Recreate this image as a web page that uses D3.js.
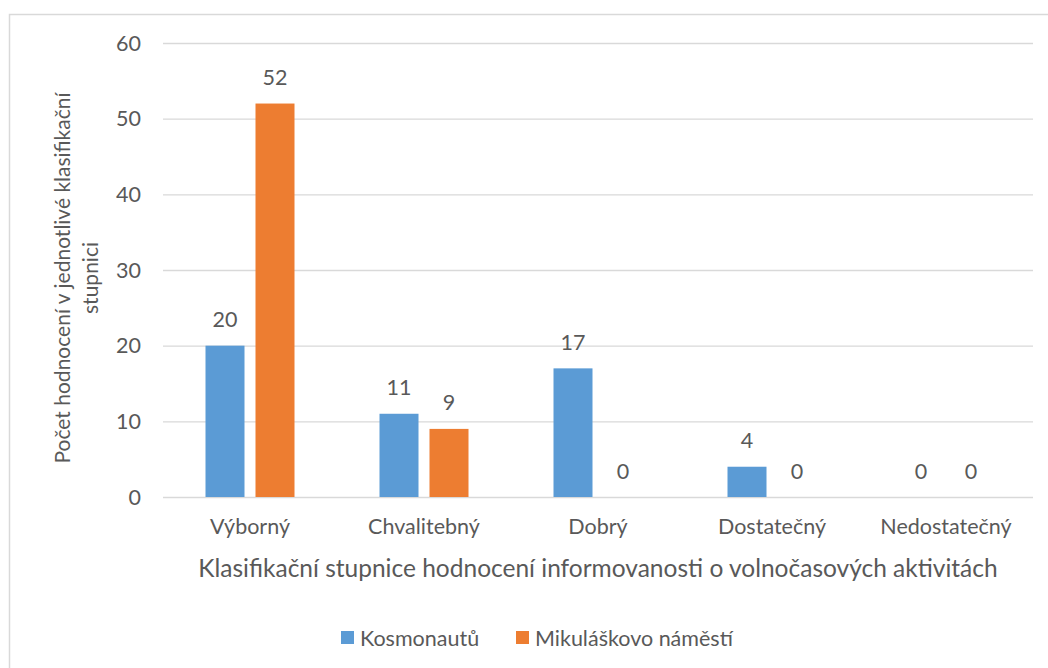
<!DOCTYPE html>
<html>
<head>
<meta charset="utf-8">
<script src="https://cdn.jsdelivr.net/npm/d3@7"></script>
<style>
  body { margin: 0; background: #fff; }
  text { font-family: Lato, "Open Sans", sans-serif; fill: #595959; }
</style>
</head>
<body>
<svg width="1048" height="668"></svg>
<script>
  const categories = ['Výborný', 'Chvalitebný', 'Dobrý', 'Dostatečný', 'Nedostatečný'];
  const seriesNames = ['Kosmonautů', 'Mikuláškovo náměstí'];
  const kosmonautu = [20, 11, 17, 4, 0];
  const mikulaskovo = [52, 9, 0, 0, 0];
  const yTicks = [0, 10, 20, 30, 40, 50, 60];
  const colors = ['#5b9bd5', '#ed7d31'];

  const labelSize = 21.5;

  const svg = d3.select('svg');

  // chart area frame
  svg.append('rect')
    .attr('x', 9.5).attr('y', 14.5)
    .attr('width', 1060).attr('height', 680)
    .attr('fill', '#fff')
    .attr('stroke', '#d9d9d9')
    .attr('stroke-width', 1.5);

  const margin = {left: 163, right: 1033, top: 43, bottom: 497};

  const x = d3.scaleBand()
    .domain(categories)
    .range([margin.left, margin.right]);

  const x1 = d3.scaleBand()
    .domain(seriesNames)
    .range([x.bandwidth() / 2 - 44.5, x.bandwidth() / 2 + 44.5])
    .paddingInner(0.22);

  const y = d3.scaleLinear()
    .domain([0, 60])
    .range([margin.bottom, margin.top]);

  // gridlines
  svg.append('g')
    .selectAll('line').data(yTicks)
    .enter().append('line')
      .attr('x1', margin.left).attr('x2', margin.right)
      .attr('y1', d => y(d) + 0.5).attr('y2', d => y(d) + 0.5)
      .attr('stroke', '#d9d9d9')
      .attr('stroke-width', 1.3);

  // y tick labels
  svg.append('g')
    .selectAll('text').data(yTicks)
    .enter().append('text')
      .attr('x', 141)
      .attr('y', d => y(d))
      .attr('dy', '0.35em')
      .attr('text-anchor', 'end')
      .attr('font-size', labelSize)
      .text(d => d);

  const rows = categories.map((c, i) => ({
    category: c,
    values: [kosmonautu[i], mikulaskovo[i]]
  }));

  const groups = svg.append('g')
    .selectAll('g').data(rows)
    .enter().append('g')
      .attr('transform', d => `translate(${x(d.category)},0)`);

  const cells = groups.selectAll('g')
    .data(d => d.values.map((v, i) => ({series: seriesNames[i], value: v, i})))
    .enter().append('g');

  cells.append('rect')
    .attr('x', d => x1(d.series))
    .attr('y', d => y(d.value))
    .attr('width', x1.bandwidth())
    .attr('height', d => y(0) - y(d.value))
    .attr('fill', d => colors[d.i]);

  cells.append('text')
    .attr('x', d => x1(d.series) + x1.bandwidth() / 2)
    .attr('y', d => y(d.value) - 26)
    .attr('dy', '0.35em')
    .attr('text-anchor', 'middle')
    .attr('font-size', labelSize)
    .text(d => d.value);

  // category labels
  svg.append('g')
    .selectAll('text').data(categories)
    .enter().append('text')
      .attr('x', d => x(d) + x.bandwidth() / 2)
      .attr('y', 526)
      .attr('dy', '0.35em')
      .attr('text-anchor', 'middle')
      .attr('font-size', labelSize)
      .text(d => d);

  // axis titles
  svg.append('text')
    .attr('x', 598)
    .attr('y', 568)
    .attr('dy', '0.35em')
    .attr('text-anchor', 'middle')
    .attr('font-size', 24.5)
    .text('Klasifikační stupnice hodnocení informovanosti o volnočasových aktivitách');

  const yTitle = svg.append('text')
    .attr('transform', 'translate(70,278) rotate(-90)')
    .attr('text-anchor', 'middle')
    .attr('font-size', 21);
  yTitle.append('tspan').attr('x', 0).attr('y', 0)
    .text('Počet hodnocení v jednotlivé klasifikační');
  yTitle.append('tspan').attr('x', 0).attr('y', 28)
    .text('stupnici');

  // legend
  const legend = svg.append('g')
    .attr('transform', 'translate(341,631)');
  const legendOffsets = [0, 175];
  const items = legend.selectAll('g').data(seriesNames)
    .enter().append('g')
      .attr('transform', (d, i) => `translate(${legendOffsets[i]},0)`);
  items.append('rect')
    .attr('width', 13).attr('height', 13)
    .attr('fill', (d, i) => colors[i]);
  items.append('text')
    .attr('x', 19).attr('y', 7)
    .attr('dy', '0.35em')
    .attr('font-size', labelSize)
    .text(d => d);
</script>
</body>
</html>
